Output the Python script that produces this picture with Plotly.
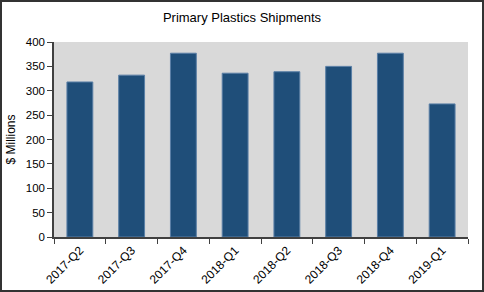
import plotly.graph_objects as go

quarters = ["2017-Q2", "2017-Q3", "2017-Q4", "2018-Q1", "2018-Q2", "2018-Q3", "2018-Q4", "2019-Q1"]
shipments = [318, 332, 377, 336, 339, 350, 377, 273]

W, H = 484, 292
ml, mr, mt, mb = 54, 16, 42, 55
pw, ph = W - ml - mr, H - mt - mb

fig = go.Figure(go.Bar(
    x=quarters, y=shipments,
    marker=dict(color="#1F4E79", line=dict(color="#5A7FA6", width=1)),
))

def px2x(p):
    return (p - ml) / pw

def py2y(p):
    return (H - mb - p) / ph

fig.add_shape(type="rect", xref="paper", yref="paper",
              x0=px2x(1), x1=px2x(483), y0=py2y(291), y1=py2y(1),
              line=dict(color="#333333", width=2), layer="above")

fig.update_layout(
    width=W, height=H,
    margin=dict(l=ml, r=mr, t=mt, b=mb, autoexpand=False),
    paper_bgcolor="white", plot_bgcolor="#D9D9D9",
    bargap=0.5,
    showlegend=False,
    font=dict(family="Liberation Sans, Arial", size=11.5, color="black"),
    title=dict(text="Primary Plastics Shipments", x=0.5, xanchor="center",
               y=1 - 17 / H, yanchor="middle", font=dict(size=13)),
)
fig.update_xaxes(
    showline=True, linecolor="#404040", linewidth=1.5,
    ticks="outside", ticklen=5, tickcolor="#404040",
    tickson="boundaries", tickangle=-45, showgrid=False,
    tickfont=dict(size=12), automargin=False,
)
fig.update_yaxes(
    range=[0, 400], dtick=50, showline=True, linecolor="#404040", linewidth=1.5,
    ticks="outside", ticklen=5, tickcolor="#404040", showgrid=False, zeroline=False,
    title=dict(text="$ Millions", standoff=8, font=dict(size=12)), automargin=False,
)
fig.write_html("out.html")
